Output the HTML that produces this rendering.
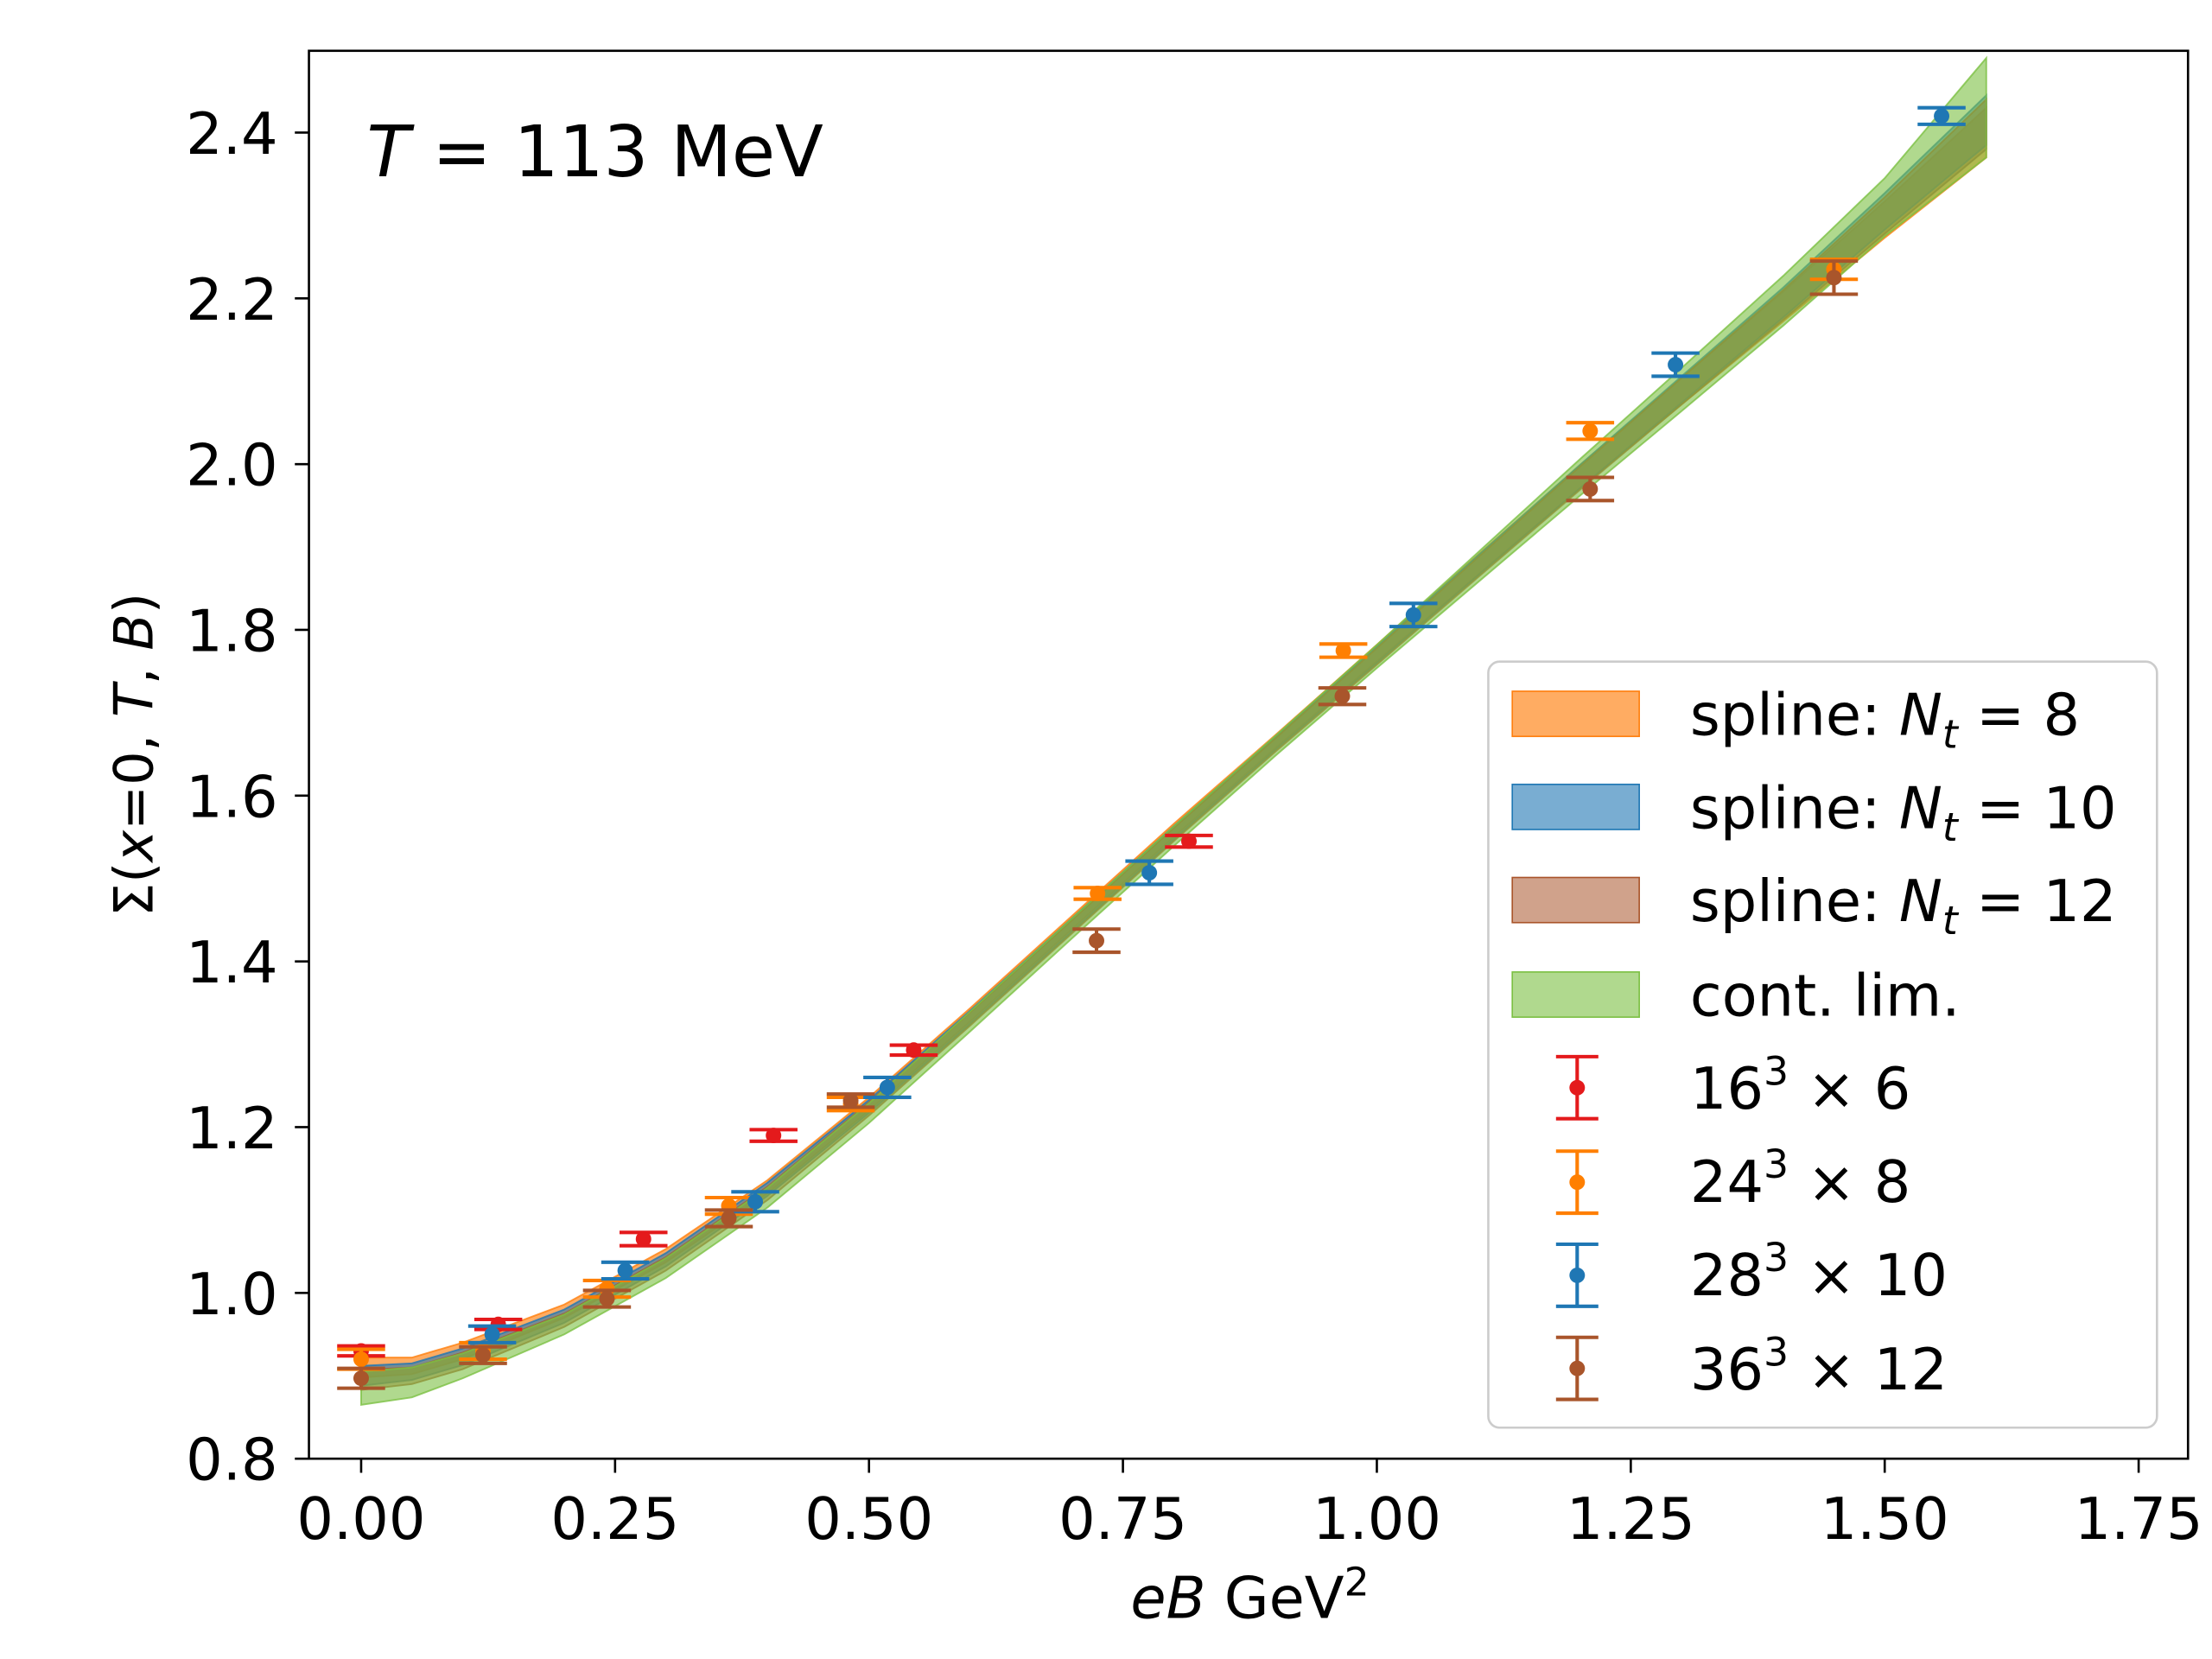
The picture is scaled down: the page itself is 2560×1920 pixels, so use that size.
<!DOCTYPE html>
<html><head><meta charset="utf-8"><style>
html,body{margin:0;padding:0;background:#fff}
svg{display:block}
text{font-family:"DejaVu Sans","Liberation Sans",sans-serif;fill:#000}
</style></head><body>
<svg id="chart" width="2560" height="1920" viewBox="0 0 1568 1176" xmlns="http://www.w3.org/2000/svg">
<rect x="0" y="0" width="1568" height="1176" fill="#fff"/>
<g id="bands"></g>
<g id="points"></g>
<rect x="219" y="36" width="1332" height="998" fill="none" stroke="#000" stroke-width="1.6"/>
<g id="xticks"></g>
<g id="yticks"></g>
<text x="886" y="1147" font-size="41" text-anchor="middle"><tspan font-style="italic">eB</tspan> GeV<tspan font-size="28" dy="-16">2</tspan></text>
<text transform="translate(108,535) rotate(-90)" font-size="38" text-anchor="middle">Σ(<tspan font-style="italic">x</tspan>=0, <tspan font-style="italic">T</tspan>, <tspan font-style="italic">B</tspan>)</text>
<text x="260" y="125" font-size="50"><tspan font-style="italic">T</tspan> = 113 MeV</text>
<g>
<rect x="1055" y="469" width="474" height="543" rx="8" fill="#fff" fill-opacity="0.85" stroke="#ccc" stroke-width="1.6"/>
<rect x="1072" y="490" width="90" height="32" fill="#ff7f0e" fill-opacity="0.65" stroke="#ff7f0e"/>
<text x="1198" y="521" font-size="41">spline: <tspan font-style="italic">N</tspan><tspan font-style="italic" font-size="28" dy="9">t</tspan><tspan dy="-9"> = 8</tspan></text>
<rect x="1072" y="556" width="90" height="32" fill="#1f77b4" fill-opacity="0.6" stroke="#1f77b4"/>
<text x="1198" y="587" font-size="41">spline: <tspan font-style="italic">N</tspan><tspan font-style="italic" font-size="28" dy="9">t</tspan><tspan dy="-9"> = 10</tspan></text>
<rect x="1072" y="622" width="90" height="32" fill="#a9552b" fill-opacity="0.55" stroke="#a9552b"/>
<text x="1198" y="653" font-size="41">spline: <tspan font-style="italic">N</tspan><tspan font-style="italic" font-size="28" dy="9">t</tspan><tspan dy="-9"> = 12</tspan></text>
<rect x="1072" y="689" width="90" height="32" fill="#7cc043" fill-opacity="0.6" stroke="#7cc043"/>
<text x="1198" y="720" font-size="41">cont. lim.</text>
<g id="legpts"></g>
<text x="1198" y="786" font-size="41">16<tspan font-size="28" dy="-17">3</tspan><tspan dy="17"> × 6</tspan></text>
<text x="1198" y="852" font-size="41">24<tspan font-size="28" dy="-17">3</tspan><tspan dy="17"> × 8</tspan></text>
<text x="1198" y="918" font-size="41">28<tspan font-size="28" dy="-17">3</tspan><tspan dy="17"> × 10</tspan></text>
<text x="1198" y="985" font-size="41">36<tspan font-size="28" dy="-17">3</tspan><tspan dy="17"> × 12</tspan></text>
</g>
</svg>
<script>
const xTicks=[0,0.25,0.5,0.75,1.0,1.25,1.5,1.75];
const xTickLabels=["0.00","0.25","0.50","0.75","1.00","1.25","1.50","1.75"];
const yTicks=[0.8,1.0,1.2,1.4,1.6,1.8,2.0,2.2,2.4];
const yTickLabels=["0.8","1.0","1.2","1.4","1.6","1.8","2.0","2.2","2.4"];
const bandX=[0,0.05,0.1,0.2,0.3,0.4,0.5,0.6,0.7,0.8,0.9,1.0,1.1,1.2,1.3,1.4,1.5,1.6];
const centerNt8=[0.91,0.912,0.93,0.978,1.045,1.128,1.228,1.336,1.447,1.558,1.665,1.772,1.879,1.985,2.088,2.19,2.295,2.4];
const centerNt10=[0.9,0.905,0.923,0.972,1.04,1.125,1.225,1.333,1.444,1.555,1.663,1.77,1.878,1.985,2.09,2.195,2.305,2.415];
const centerNt12=[0.895,0.9,0.918,0.967,1.035,1.12,1.222,1.331,1.442,1.553,1.661,1.768,1.876,1.983,2.088,2.192,2.3,2.41];
const centerCont=[0.885,0.892,0.912,0.962,1.03,1.115,1.217,1.328,1.44,1.551,1.66,1.768,1.876,1.984,2.09,2.197,2.31,2.43];
const widthSpline=[0.012,0.01,0.01,0.008,0.008,0.008,0.008,0.008,0.008,0.008,0.008,0.01,0.012,0.014,0.016,0.018,0.022,0.03];
const widthCont=[0.02,0.018,0.015,0.012,0.012,0.012,0.012,0.012,0.012,0.012,0.012,0.014,0.018,0.022,0.026,0.03,0.035,0.06];
const x6=[0,0.135,0.278,0.406,0.544,0.815];
const y6=[0.93,0.962,1.065,1.19,1.293,1.545];
const e6=[0.006,0.006,0.008,0.007,0.006,0.007];
const x8=[0,0.12,0.242,0.362,0.482,0.725,0.967,1.21,1.45];
const y8=[0.92,0.93,1.005,1.105,1.228,1.482,1.775,2.04,2.235];
const e8=[0.012,0.01,0.01,0.01,0.008,0.007,0.008,0.01,0.012];
const x10=[0.129,0.26,0.388,0.518,0.776,1.036,1.294,1.556];
const y10=[0.95,1.027,1.11,1.248,1.507,1.818,2.12,2.42];
const e10=[0.01,0.01,0.012,0.012,0.014,0.014,0.014,0.01];
const x12=[0,0.12,0.242,0.362,0.482,0.724,0.966,1.21,1.45];
const y12=[0.897,0.925,0.993,1.09,1.232,1.425,1.72,1.97,2.225];
const e12=[0.012,0.01,0.01,0.01,0.008,0.014,0.01,0.014,0.02];

const NS="http://www.w3.org/2000/svg";
const X=v=>256+720*v;
const Y=v=>1034-(v-0.8)*587.5;
function mk(t,a,p){const e=document.createElementNS(NS,t);for(const k in a)e.setAttribute(k,a[k]);p.appendChild(e);return e;}
const xg=document.getElementById('xticks'),yg=document.getElementById('yticks');
xTicks.forEach((v,i)=>{
  const l=mk('line',{x1:X(v),x2:X(v),y1:1034,y2:1044,stroke:'#000','stroke-width':1.6},xg);
  
  
  const t=mk('text',{x:X(v),y:1091,'font-size':41,'text-anchor':'middle'},xg);
  t.textContent=xTickLabels[i];
  
  
});
yTicks.forEach((v,i)=>{
  const l=mk('line',{x1:209,x2:219,y1:Y(v),y2:Y(v),stroke:'#000','stroke-width':1.6},yg);
  
  
  const t=mk('text',{x:197,y:Y(v)+15,'font-size':41,'text-anchor':'end'},yg);
  t.textContent=yTickLabels[i];
  
  
});
const bg=document.getElementById('bands');
function band(c,w,color,op,name){
  let d='';
  bandX.forEach((v,i)=>{d+=(i?'L':'M')+X(v)+','+Y(c[i]+w[i]);});
  for(let i=bandX.length-1;i>=0;i--)d+='L'+X(bandX[i])+','+Y(c[i]-w[i]);
  const p=mk('path',{d:d+'Z',fill:color,'fill-opacity':op,stroke:color,'stroke-opacity':0.8,'stroke-width':1.2},bg);
  
  
}
band(centerNt8,widthSpline,'#ff7f0e',0.65,'band-nt8');
band(centerNt10,widthSpline,'#1f77b4',0.6,'band-nt10');
band(centerNt12,widthSpline,'#a9552b',0.55,'band-nt12');
band(centerCont,widthCont,'#7cc043',0.6,'band-cont-limit');
const pg=document.getElementById('points');
function series(xs,ys,es,color,name){
  xs.forEach((v,i)=>{
    const g=mk('g',{},pg);
    
    
    const cx=X(v),y1=Y(ys[i]+es[i]),y2=Y(ys[i]-es[i]);
    mk('line',{x1:cx,x2:cx,y1:y1,y2:y2,stroke:color,'stroke-width':2.5},g);
    mk('line',{x1:cx-17,x2:cx+17,y1:y1,y2:y1,stroke:color,'stroke-width':2.5},g);
    mk('line',{x1:cx-17,x2:cx+17,y1:y2,y2:y2,stroke:color,'stroke-width':2.5},g);
    mk('circle',{cx:cx,cy:Y(ys[i]),r:5.5,fill:color},g);
  });
}
series(x6,y6,e6,'#e41a1c','point-16x6');
series(x8,y8,e8,'#ff7f00','point-24x8');
series(x10,y10,e10,'#1f77b4','point-28x10');
series(x12,y12,e12,'#a9552b','point-36x12');
const lg=document.getElementById('legpts');
[['#e41a1c',771],['#ff7f00',838],['#1f77b4',904],['#a9552b',970]].forEach(([c,y])=>{
  const g=mk('g',{},lg);
  
  
  mk('line',{x1:1118,x2:1118,y1:y-22,y2:y+22,stroke:c,'stroke-width':2.5},g);
  mk('line',{x1:1103,x2:1133,y1:y-22,y2:y-22,stroke:c,'stroke-width':2.5},g);
  mk('line',{x1:1103,x2:1133,y1:y+22,y2:y+22,stroke:c,'stroke-width':2.5},g);
  mk('circle',{cx:1118,cy:y,r:5.5,fill:c},g);
});
</script>
</body></html>
